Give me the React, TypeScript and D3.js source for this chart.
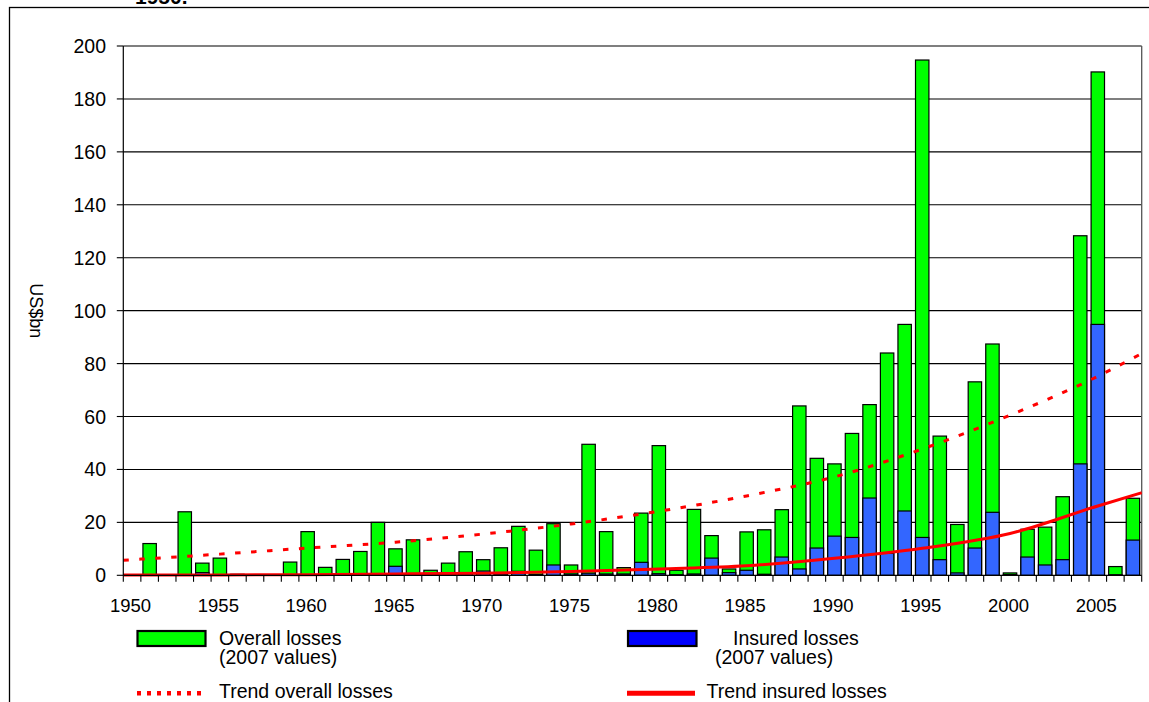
import React from "react";
import * as d3 from "d3";

// ---- data ----
const years: number[] = d3.range(1950, 2008);

const overallLosses: number[] = [
  0, 12, 0, 24, 4.6, 6.5, 0.4, 0, 0, 5,
  16.5, 3, 6, 9, 20, 10, 13.4, 1.9, 4.6, 8.9,
  5.9, 10.4, 18.5, 9.5, 19.5, 3.9, 49.5, 16.5, 2.9, 23.5,
  49, 1.9, 24.9, 15, 2.4, 16.4, 17.2, 24.8, 64, 44.2,
  42.1, 53.6, 64.5, 84, 94.8, 194.7, 52.6, 19.2, 73.1, 87.4,
  0.9, 17.4, 18.2, 29.7, 128.3, 190.2, 3.3, 29.1,
];

const insuredLosses: number[] = [
  0, 0, 0, 0, 1, 0, 0, 0, 0, 0,
  0, 0, 0, 0, 0, 3.4, 0, 0, 0, 0.8,
  1.6, 0.5, 1.5, 0.3, 3.9, 0.5, 0.8, 0.5, 0.5, 4.9,
  0.6, 0.2, 0.5, 6.5, 1, 1.9, 0.4, 6.9, 2.4, 10.3,
  14.8, 14.3, 29.2, 8.3, 24.3, 14.3, 5.9, 0.9, 10.3, 23.8,
  0.3, 6.9, 3.9, 5.9, 42.1, 94.8, 0.2, 13.3,
];

const trendYears: number[] = [1949.5, 1955, 1960, 1965, 1970, 1975, 1980, 1985, 1990, 1995, 2000, 2005, 2007.5];
const trendOverall: number[] = [5.7, 8.0, 10.3, 12.5, 15.6, 19.4, 24.2, 30, 37.2, 47.7, 60.5, 75.2, 83.8];
const trendInsured: number[] = [0.1, 0.15, 0.25, 0.5, 0.8, 1.4, 2.4, 3.6, 6.4, 10.2, 15.8, 26.2, 31.2];

const yTicks: number[] = d3.range(0, 201, 20);
const xLabelYears: number[] = [1950, 1955, 1960, 1965, 1970, 1975, 1980, 1985, 1990, 1995, 2000, 2005];

// ---- layout ----
const W = 1149;
const H = 702;
const left = 123.3;
const right = 1141.7;
const top = 46;
const bottom = 575.3;
const FONT = "'Liberation Sans', Arial, sans-serif";

export default function App() {
  const y = d3.scaleLinear().domain([0, 200]).range([bottom, top]);
  const x = d3
    .scaleBand<number>()
    .domain(years)
    .range([left, right])
    .paddingInner(0.236)
    .paddingOuter(0.118);
  const step = x.step();
  const xc = (yr: number) => (x(yr) as number) + x.bandwidth() / 2;
  const xTrend = d3.scaleLinear().domain([1949.5, 2007.5]).range([left, right]);

  const line = d3
    .line<number>()
    .x((_, i) => xTrend(trendYears[i]))
    .y((v) => y(v))
    .curve(d3.curveMonotoneX);

  const boundaries = d3.range(0, years.length + 1).map((i) => left + i * step);

  return (
    <svg
      width={W}
      height={H}
      style={{ position: "absolute", left: 0, top: 0, background: "#fff" }}
      fontFamily={FONT}
    >
      {/* outer frame */}
      <rect x={9.5} y={7.5} width={1145} height={720} fill="#fff" stroke="#000" strokeWidth={1.3} />
      <text x={135} y={4} fontSize={21} fontWeight="bold" fill="#000">
        1950.
      </text>

      {/* gridlines */}
      {yTicks
        .filter((t) => t > 0)
        .map((t) => (
          <line key={"g" + t} x1={left} x2={right} y1={y(t)} y2={y(t)} stroke="#000" strokeWidth={1.1} />
        ))}
      {/* plot right border */}
      <line x1={right} x2={right} y1={top} y2={bottom} stroke="#555" strokeWidth={1.3} />

      {/* bars */}
      {years.map((yr, i) =>
        overallLosses[i] > 0 ? (
          <rect
            key={"o" + yr}
            x={x(yr)}
            y={y(overallLosses[i])}
            width={x.bandwidth()}
            height={bottom - y(overallLosses[i])}
            fill="#00ff00"
            stroke="#000"
            strokeWidth={1.2}
          />
        ) : null
      )}
      {years.map((yr, i) =>
        insuredLosses[i] > 0 ? (
          <rect
            key={"i" + yr}
            x={x(yr)}
            y={y(insuredLosses[i])}
            width={x.bandwidth()}
            height={bottom - y(insuredLosses[i])}
            fill="#3366ff"
            stroke="#000"
            strokeWidth={1.2}
          />
        ) : null
      )}

      {/* trend lines */}
      <path d={line(trendOverall) || ""} fill="none" stroke="#ff0000" strokeWidth={3} strokeDasharray="5.5 10.5" />
      <path d={line(trendInsured) || ""} fill="none" stroke="#ff0000" strokeWidth={3} />

      {/* y axis */}
      <line x1={left} x2={left} y1={top} y2={bottom} stroke="#000" strokeWidth={1.2} />
      {yTicks.map((t) => (
        <g key={"yt" + t}>
          <line x1={left - 6.5} x2={left} y1={y(t)} y2={y(t)} stroke="#000" strokeWidth={1.1} />
          <text x={106} y={y(t)} dy="0.36em" textAnchor="end" fontSize={19.5} fill="#000">
            {t}
          </text>
        </g>
      ))}
      <text
        transform={`translate(30, ${(top + bottom) / 2}) rotate(90)`}
        textAnchor="middle"
        fontSize={18}
        fill="#000"
      >
        US$bn
      </text>

      {/* x axis */}
      <line x1={left} x2={right} y1={bottom} y2={bottom} stroke="#000" strokeWidth={1.2} />
      {boundaries.map((bx, i) => (
        <line key={"xt" + i} x1={bx} x2={bx} y1={bottom} y2={bottom + 6.5} stroke="#000" strokeWidth={1.1} />
      ))}
      {xLabelYears.map((yr) => (
        <text key={"xl" + yr} x={xc(yr) - 1.5} y={612} textAnchor="middle" fontSize={18.5} fill="#000">
          {yr}
        </text>
      ))}

      {/* legend */}
      <rect x={137.5} y={631} width={68} height={15} fill="#00ff00" stroke="#000" strokeWidth={2.2} />
      <text x={219} y={645} fontSize={19.5} fill="#000">Overall losses</text>
      <text x={219} y={664} fontSize={19.5} fill="#000">(2007 values)</text>

      <rect x={628} y={631} width={68.5} height={15} fill="#0000ff" stroke="#000" strokeWidth={2.2} />
      <text x={733} y={645} fontSize={19.5} fill="#000">Insured losses</text>
      <text x={715} y={664} fontSize={19.5} fill="#000">(2007 values)</text>

      <line x1={137} x2={207} y1={693.3} y2={693.3} stroke="#ff0000" strokeWidth={4.5} strokeDasharray="4 6" />
      <text x={219} y={698} fontSize={19.5} fill="#000">Trend overall losses</text>

      <line x1={627} x2={695} y1={693.3} y2={693.3} stroke="#ff0000" strokeWidth={5} />
      <text x={706.5} y={698} fontSize={19.5} fill="#000">Trend insured losses</text>
    </svg>
  );
}
